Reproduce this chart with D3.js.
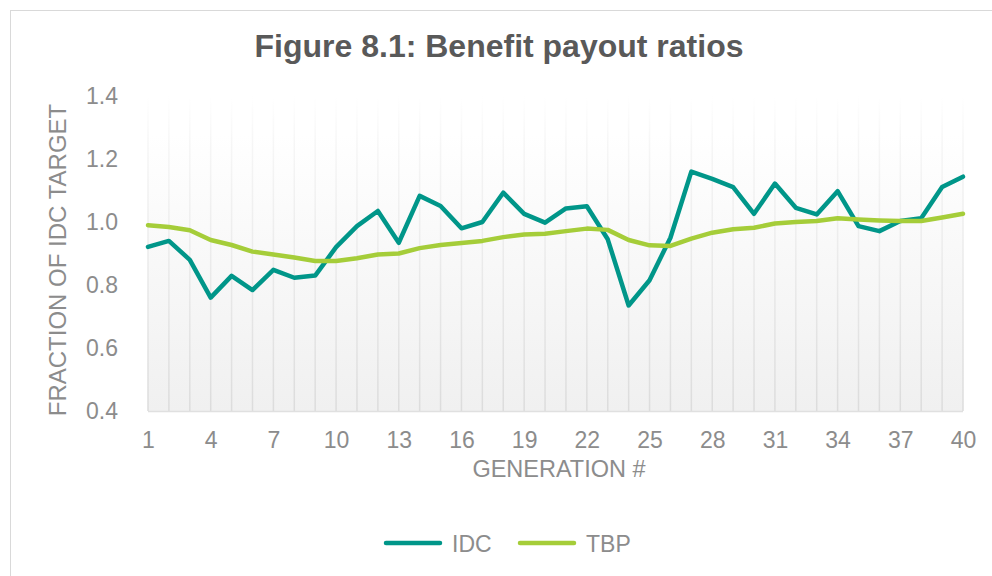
<!DOCTYPE html>
<html>
<head>
<meta charset="utf-8">
<script src="https://cdn.jsdelivr.net/npm/d3@7"></script>
<style>
  body { margin: 0; background: #fff; }
  svg { display: block; font-family: "Liberation Sans", Arial, sans-serif; }
</style>
</head>
<body>
<div id="chart"></div>
<script>
const generations = d3.range(1, 41);
const idc = [0.921, 0.94, 0.88, 0.76, 0.829, 0.784, 0.848, 0.823, 0.83, 0.92,
  0.987, 1.035, 0.934, 1.083, 1.051, 0.98, 1.0, 1.093, 1.026, 0.998,
  1.043, 1.05, 0.945, 0.735, 0.815, 0.95, 1.16, 1.137, 1.111, 1.026,
  1.122, 1.045, 1.024, 1.098, 0.987, 0.971, 1.003, 1.012, 1.111, 1.144];
const tbp = [0.99, 0.984, 0.974, 0.943, 0.927, 0.906, 0.897, 0.887, 0.876, 0.876,
  0.885, 0.897, 0.9, 0.917, 0.927, 0.933, 0.94, 0.952, 0.96, 0.963,
  0.971, 0.979, 0.975, 0.943, 0.926, 0.924, 0.947, 0.966, 0.977, 0.982,
  0.995, 1.0, 1.003, 1.012, 1.008, 1.005, 1.003, 1.003, 1.014, 1.026];
const yTicks = [0.4, 0.6, 0.8, 1.0, 1.2, 1.4];
const xTickLabels = [1, 4, 7, 10, 13, 16, 19, 22, 25, 28, 31, 34, 37, 40];

const series = [
  { name: "IDC", values: idc, color: "#009689" },
  { name: "TBP", values: tbp, color: "#a5cd39" }
];

const width = 992, height = 576;
const plot = { left: 148, right: 963, top: 96, bottom: 411 };
const labelColor = "#8c8c8c";

const svg = d3.select("#chart").append("svg")
  .attr("width", width)
  .attr("height", height);

// outer chart frame (cropped on right/bottom)
svg.append("rect")
  .attr("x", 10.5).attr("y", 10.5)
  .attr("width", 1000).attr("height", 600)
  .attr("fill", "#fff")
  .attr("stroke", "#d9d9d9");

const defs = svg.append("defs");
const bg = defs.append("linearGradient")
  .attr("id", "bg").attr("x1", 0).attr("y1", 0).attr("x2", 0).attr("y2", 1);
bg.append("stop").attr("offset", "0%").attr("stop-color", "#ffffff");
bg.append("stop").attr("offset", "12%").attr("stop-color", "#ffffff");
bg.append("stop").attr("offset", "100%").attr("stop-color", "#f0f0f0");

const gridGrad = defs.append("linearGradient")
  .attr("id", "gridGrad").attr("gradientUnits", "userSpaceOnUse")
  .attr("x1", 0).attr("y1", plot.top).attr("x2", 0).attr("y2", plot.bottom);
gridGrad.append("stop").attr("offset", "0%").attr("stop-color", "#ffffff");
gridGrad.append("stop").attr("offset", "15%").attr("stop-color", "#f6f6f6");
gridGrad.append("stop").attr("offset", "100%").attr("stop-color", "#dcdcdc");

const x = d3.scaleLinear().domain([1, 40]).range([plot.left, plot.right]);
const y = d3.scaleLinear().domain([0.4, 1.4]).range([plot.bottom, plot.top]);

svg.append("rect")
  .attr("x", plot.left).attr("y", plot.top)
  .attr("width", plot.right - plot.left).attr("height", plot.bottom - plot.top)
  .attr("fill", "url(#bg)");

// vertical gridlines
svg.append("g")
  .selectAll("line")
  .data(generations)
  .join("line")
  .attr("x1", d => x(d)).attr("x2", d => x(d))
  .attr("y1", plot.top).attr("y2", plot.bottom)
  .attr("stroke", "url(#gridGrad)")
  .attr("stroke-width", 1.5);

// baseline
svg.append("line")
  .attr("x1", plot.left).attr("x2", plot.right)
  .attr("y1", plot.bottom + 0.5).attr("y2", plot.bottom + 0.5)
  .attr("stroke", "#e0e0e0").attr("stroke-width", 1.5);

// title
svg.append("text")
  .attr("x", 499).attr("y", 57)
  .attr("text-anchor", "middle")
  .attr("font-size", "32px")
  .attr("font-weight", "700")
  .attr("fill", "#595959")
  .text("Figure 8.1: Benefit payout ratios");

// y axis
const yAxis = svg.append("g")
  .attr("transform", "translate(121,0)")
  .call(d3.axisLeft(y).tickValues(yTicks).tickFormat(d3.format(".1f")).tickSize(0));
yAxis.select(".domain").remove();
yAxis.selectAll("text")
  .attr("font-size", "23px")
  .attr("fill", labelColor)
  .attr("font-family", "Liberation Sans, Arial, sans-serif");

// x axis
const xAxis = svg.append("g")
  .attr("transform", "translate(0,429)")
  .call(d3.axisBottom(x).tickValues(xTickLabels).tickFormat(d3.format("d")).tickSize(0));
xAxis.select(".domain").remove();
xAxis.selectAll("text")
  .attr("font-size", "23px")
  .attr("fill", labelColor)
  .attr("font-family", "Liberation Sans, Arial, sans-serif");

// axis titles
svg.append("text")
  .attr("x", 559).attr("y", 477)
  .attr("text-anchor", "middle")
  .attr("font-size", "23.5px")
  .attr("fill", labelColor)
  .text("GENERATION #");

svg.append("text")
  .attr("transform", "translate(66,260) rotate(-90)")
  .attr("text-anchor", "middle")
  .attr("font-size", "24px")
  .attr("fill", labelColor)
  .text("FRACTION OF IDC TARGET");

// lines
const line = d3.line()
  .x((d, i) => x(generations[i]))
  .y(d => y(d));

series.forEach(s => {
  svg.append("path")
    .datum(s.values)
    .attr("fill", "none")
    .attr("stroke", s.color)
    .attr("stroke-width", 4.5)
    .attr("stroke-linejoin", "round")
    .attr("stroke-linecap", "round")
    .attr("d", line);
});

// legend
const legendPos = [386, 520];
series.forEach((s, i) => {
  const g = svg.append("g").attr("transform", "translate(" + legendPos[i] + ",543)");
  g.append("line")
    .attr("x1", 0).attr("x2", 54)
    .attr("stroke", s.color)
    .attr("stroke-width", 4.5)
    .attr("stroke-linecap", "round");
  g.append("text")
    .attr("x", 66).attr("y", 8.5)
    .attr("font-size", "23px")
    .attr("fill", labelColor)
    .text(s.name);
});
</script>
</body>
</html>
